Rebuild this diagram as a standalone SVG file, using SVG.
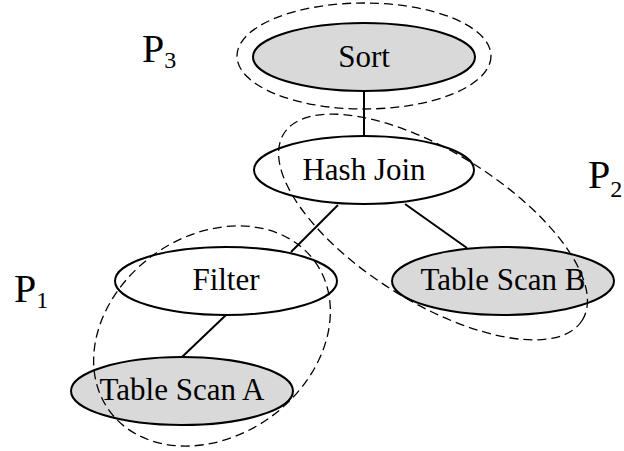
<svg xmlns="http://www.w3.org/2000/svg" width="624" height="451" viewBox="0 0 624 451">
  <style>
    .node { stroke: #000; stroke-width: 2; }
    .plain { fill: #fff; }
    .scan { fill: #d9d9d9; }
    .label { font-family: "Liberation Serif", "Times New Roman", serif; font-size: 31px; fill: #000; text-anchor: middle; }
    .part { fill: none; stroke: #000; stroke-width: 1.3; stroke-dasharray: 9 5; }
    .plabel { font-family: "Liberation Serif", "Times New Roman", serif; font-size: 40px; fill: #000; }
    .sub { font-size: 24px; }
    .edge { stroke: #000; stroke-width: 2; fill: none; }
  </style>

  <rect width="624" height="451" fill="#fff"/>

  <!-- connectors -->
  <g id="connectors">
    <line class="edge" x1="364" y1="91" x2="364" y2="136"/>
    <line class="edge" x1="338" y1="205" x2="291" y2="252"/>
    <line class="edge" x1="405" y1="204" x2="467" y2="248"/>
    <line class="edge" x1="226" y1="315" x2="182" y2="357"/>
  </g>

  <!-- operator nodes -->
  <g id="sort">
    <ellipse class="node scan" cx="364" cy="57" rx="111" ry="34"/>
    <text class="label" x="364" y="67">Sort</text>
  </g>
  <g id="hash-join">
    <ellipse class="node plain" cx="364" cy="170" rx="110" ry="34"/>
    <text class="label" x="364" y="180">Hash Join</text>
  </g>
  <g id="filter">
    <ellipse class="node plain" cx="226" cy="281" rx="111" ry="34"/>
    <text class="label" x="226" y="290">Filter</text>
  </g>
  <g id="table-scan-b">
    <ellipse class="node scan" cx="503" cy="281" rx="111" ry="34"/>
    <text class="label" x="503" y="290">Table Scan B</text>
  </g>
  <g id="table-scan-a">
    <ellipse class="node scan" cx="182" cy="391" rx="111" ry="34"/>
    <text class="label" x="182" y="400">Table Scan A</text>
  </g>

  <!-- pipeline partitions -->
  <g id="p3">
    <ellipse class="part" cx="364" cy="56" rx="127" ry="53"/>
    <text class="plabel" x="142" y="62">P<tspan class="sub" dy="5.5">3</tspan></text>
  </g>
  <g id="p2">
    <ellipse class="part" cx="0" cy="0" rx="176" ry="75" transform="translate(433 227) rotate(32)"/>
    <text class="plabel" x="588" y="188">P<tspan class="sub" dy="9">2</tspan></text>
  </g>
  <g id="p1">
    <ellipse class="part" cx="0" cy="0" rx="127" ry="100" transform="translate(212 336) rotate(-36)"/>
    <text class="plabel" x="14" y="302">P<tspan class="sub" dy="5.5">1</tspan></text>
  </g>
</svg>
